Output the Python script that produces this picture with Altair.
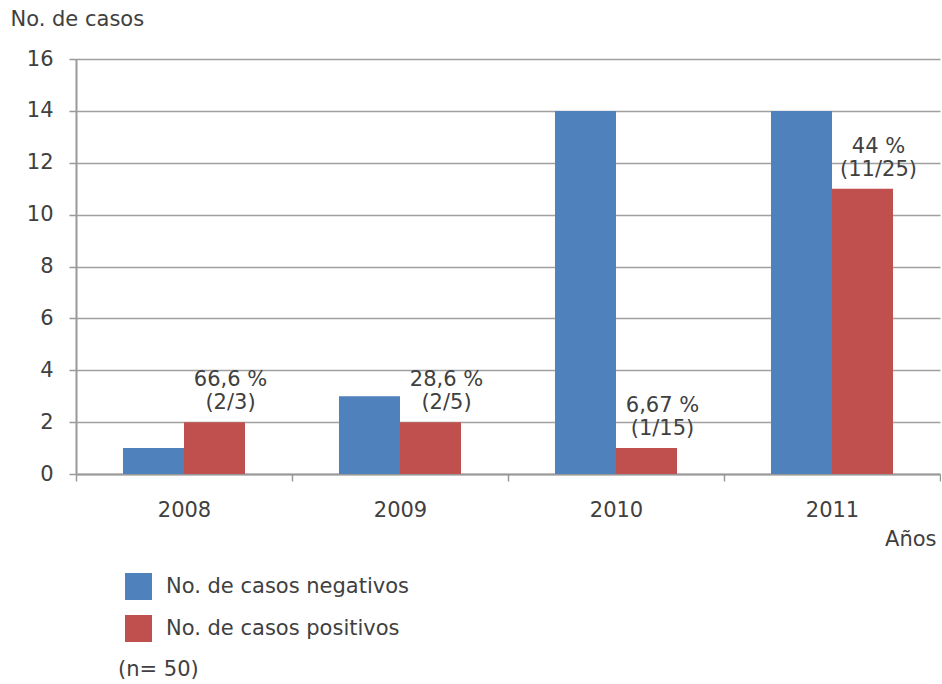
import altair as alt
import pandas as pd

years = ["2008", "2009", "2010", "2011"]
negativos = [1, 3, 14, 14]
positivos = [2, 2, 1, 11]
etiquetas = ["66,6 %\n(2/3)", "28,6 %\n(2/5)", "6,67 %\n(1/15)", "44 %\n(11/25)"]
series = ["No. de casos negativos", "No. de casos positivos"]
colors = ["#4f81bd", "#c0504d"]

rows = []
for i, y in enumerate(years):
    rows.append({"year": y, "serie": series[0], "value": negativos[i]})
    rows.append({"year": y, "serie": series[1], "value": positivos[i]})
df = pd.DataFrame(rows)
df_lab = pd.DataFrame({"year": years, "serie": [series[1]] * 4, "value": positivos, "label": etiquetas})

FONT = "DejaVu Sans"
FS = 21
TXT = "#404040"
GRAY = "#999999"

x_scale = alt.Scale(paddingInner=0, paddingOuter=0)
off_scale = alt.Scale(domain=series, paddingInner=0, paddingOuter=0.77)

x_enc = alt.X("year:N", sort=years, scale=x_scale,
              axis=alt.Axis(title="Años", titleAngle=0, titleAlign="right", titleBaseline="top",
                            titleX=860, titleY=54, titleFont=FONT, titleFontSize=FS,
                            titleFontWeight="normal", titleColor=TXT,
                            labelAngle=0, labelFont=FONT, labelFontSize=FS, labelColor=TXT,
                            labelPadding=18, tickBand="extent", tickSize=7, tickColor=GRAY,
                            tickWidth=1.5, domainColor=GRAY, domainWidth=2, grid=False))
y_enc = alt.Y("value:Q", scale=alt.Scale(domain=[0, 16]),
              axis=alt.Axis(title="No. de casos", titleAngle=0, titleAlign="left", titleBaseline="top",
                            titleX=-66, titleY=-51, titleFont=FONT, titleFontSize=FS,
                            titleFontWeight="normal", titleColor=TXT,
                            values=[0, 2, 4, 6, 8, 10, 12, 14, 16],
                            labelFont=FONT, labelFontSize=FS, labelColor=TXT, labelPadding=16,
                            tickSize=7, tickColor=GRAY, tickWidth=1.5,
                            domainColor=GRAY, domainWidth=2,
                            grid=True, gridColor="#a0a0a0", gridWidth=1.5))

bars = alt.Chart(df).mark_bar().encode(
    x=x_enc,
    xOffset=alt.XOffset("serie:N", sort=series, scale=off_scale),
    y=y_enc,
    color=alt.Color("serie:N", sort=series, scale=alt.Scale(domain=series, range=colors),
                    legend=alt.Legend(title="(n= 50)", titleOrient="bottom", titleAnchor="start",
                                      orient="none", legendX=42, legendY=514,
                                      symbolType="square", symbolSize=729, symbolStrokeWidth=0,
                                      symbolOpacity=1, symbolOffset=7, rowPadding=15, titlePadding=17,
                                      labelFont=FONT, labelFontSize=FS, labelColor=TXT, labelOffset=14,
                                      labelLimit=0,
                                      titleFont=FONT, titleFontSize=FS, titleFontWeight="normal",
                                      titleColor=TXT)),
)

labels = alt.Chart(df_lab).mark_text(font=FONT, fontSize=FS, color=TXT, lineBreak="\n",
                                     baseline="bottom", dx=16, dy=-32, lineHeight=23).encode(
    x=alt.X("year:N", sort=years, scale=x_scale),
    xOffset=alt.XOffset("serie:N", sort=series, scale=off_scale),
    y="value:Q",
    text="label:N",
)

chart = alt.layer(bars, labels).properties(
    width=864, height=415, padding={"left": 10, "top": 8, "right": 0, "bottom": 0}
).configure_view(stroke=None)

chart.save("out.html", embed_options={"renderer": "svg", "actions": False})
